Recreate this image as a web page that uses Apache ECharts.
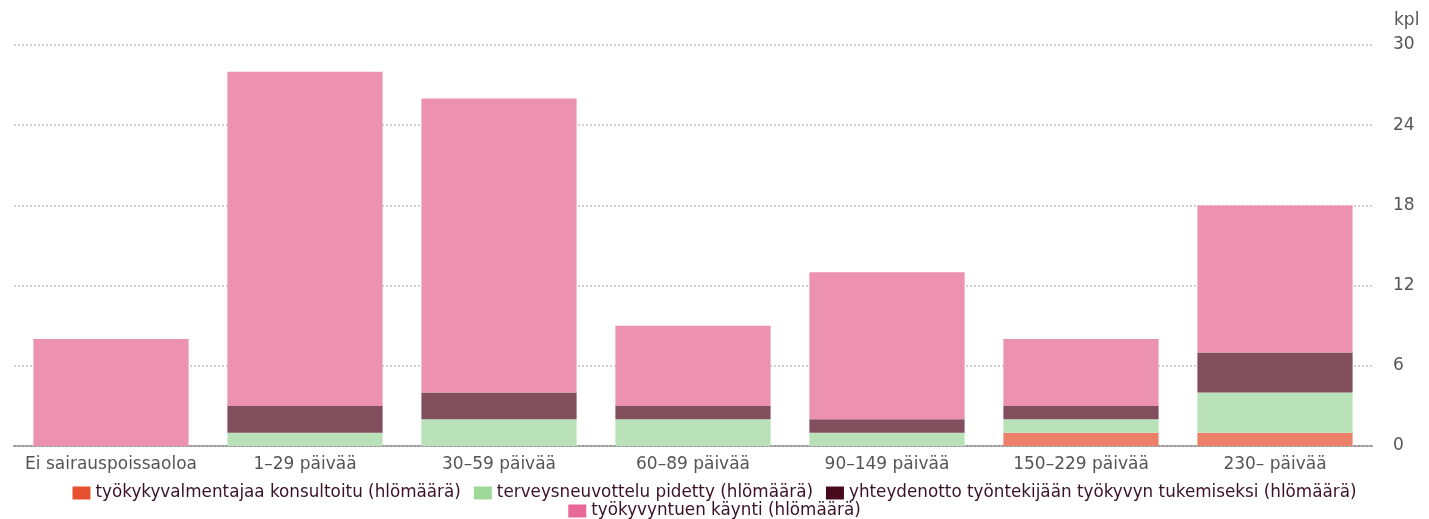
<!DOCTYPE html>
<html>
<head>
<meta charset="utf-8">
<script src="https://cdn.jsdelivr.net/npm/echarts@6/dist/echarts.min.js"></script>
<style>
  html, body { margin: 0; padding: 0; background: #ffffff; }
  #chart { width: 1429px; height: 519px; }
</style>
</head>
<body>
<div id="chart"></div>
<script>
// Sickness-absence groups on the category axis
const categories = ['Ei sairauspoissaoloa', '1–29 päivää', '30–59 päivää', '60–89 päivää', '90–149 päivää', '150–229 päivää', '230– päivää'];

// Stacked counts per group (persons)
const konsultoitu = [0, 0, 0, 0, 0, 1, 1];
const terveysneuvottelu = [0, 1, 2, 2, 1, 1, 3];
const yhteydenotto = [0, 2, 2, 1, 1, 1, 3];
const kaynti = [8, 25, 22, 6, 11, 5, 11];

const yTicks = { min: 0, max: 30, interval: 6 };

const seriesNames = [
  'työkykyvalmentajaa konsultoitu (hlömäärä)',
  'terveysneuvottelu pidetty (hlömäärä)',
  'yhteydenotto työntekijään työkyvyn tukemiseksi (hlömäärä)',
  'työkyvyntuen käynti (hlömäärä)'
];
const barColors = ['#EC8068', '#BAE2B8', '#824F5F', '#EC91B0'];
const legendColors = ['#E8512F', '#9ED99A', '#4A0A1E', '#E8689A'];
const values = [konsultoitu, terveysneuvottelu, yhteydenotto, kaynti];

const font = '"DejaVu Sans", sans-serif';
const legendText = { color: '#3A1228', fontSize: 16.8, fontFamily: font, lineHeight: 18 };

const chart = echarts.init(document.getElementById('chart'));
chart.setOption({
  animation: false,
  grid: { left: 14, right: 57, top: 45, bottom: 73 },
  legend: [
    {
      data: seriesNames.slice(0, 3).map((n, i) => ({ name: n, itemStyle: { color: legendColors[i] } })),
      left: 'center', top: 484, padding: 0,
      itemWidth: 18, itemHeight: 13, itemGap: 13,
      icon: 'rect', textStyle: legendText, selectedMode: false
    },
    {
      data: [{ name: seriesNames[3], itemStyle: { color: legendColors[3] } }],
      left: 'center', top: 502, padding: 0,
      itemWidth: 18, itemHeight: 13, itemGap: 13,
      icon: 'rect', textStyle: legendText, selectedMode: false
    }
  ],
  xAxis: {
    type: 'category',
    data: categories,
    axisLine: { lineStyle: { color: '#9a9a9a', type: 'dotted', width: 2 } },
    axisTick: { alignWithLabel: true, length: 6, lineStyle: { color: '#9a9a9a' } },
    axisLabel: { interval: 0, color: '#555555', fontSize: 17, fontFamily: font, margin: 10 }
  },
  yAxis: {
    type: 'value',
    position: 'right',
    min: yTicks.min, max: yTicks.max, interval: yTicks.interval,
    name: 'kpl',
    nameLocation: 'end',
    nameGap: 16,
    nameTextStyle: { color: '#555555', fontSize: 17, fontFamily: font, align: 'left', padding: [0, 0, 0, 22] },
    axisLine: { show: false },
    axisTick: { show: false },
    axisLabel: { color: '#555555', fontSize: 17, fontFamily: font, margin: 21 },
    splitLine: { lineStyle: { color: '#cfcfcf', type: 'dotted', width: 2 } }
  },
  series: seriesNames.map((n, i) => ({
    name: n,
    type: 'bar',
    stack: 'total',
    data: values[i],
    barCategoryGap: '20%',
    itemStyle: { color: barColors[i] }
  }))
});
</script>
</body>
</html>
